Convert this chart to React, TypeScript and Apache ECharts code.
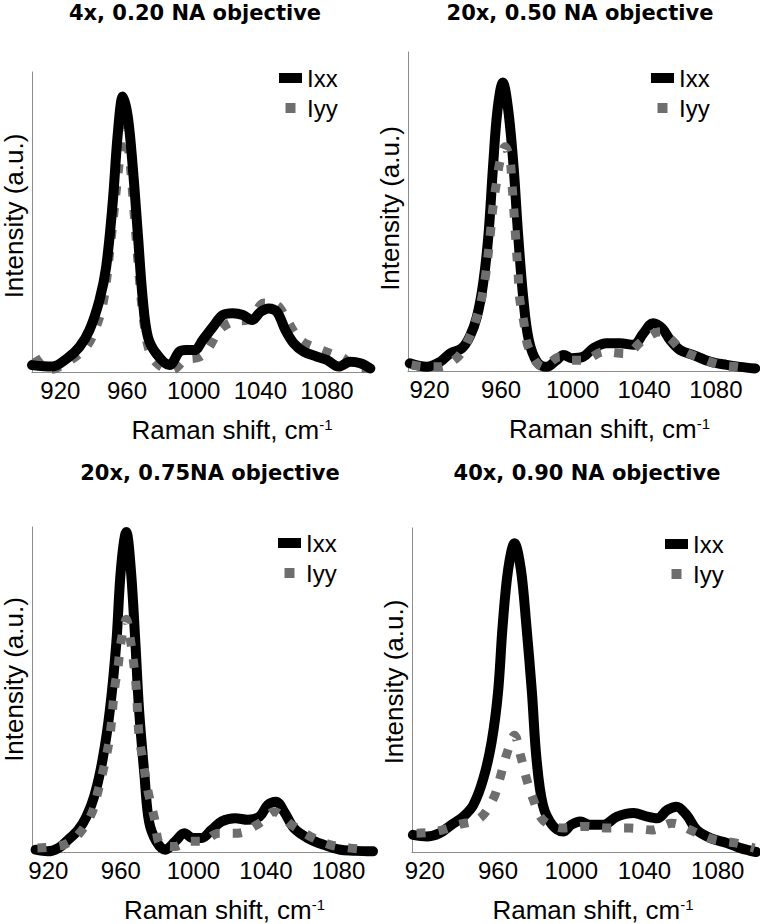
import React, { useEffect, useRef } from 'react';
import * as echarts from 'echarts';

// ---------- data ----------
const ramanTicks = [920, 960, 1000, 1040, 1080];
const panelTitles = [
  '4x, 0.20 NA objective',
  '20x, 0.50 NA objective',
  '20x, 0.75NA objective',
  '40x, 0.90 NA objective',
];
const seriesNames = ['Ixx', 'Iyy'];
const xAxisTitle = 'Raman shift, cm';
const xAxisTitleSup = '-1';
const yAxisTitle = 'Intensity (a.u.)';

// Panel 1: 4x, 0.20 NA
const p1IxxShift = [903, 915, 924, 931.5, 937.5, 943.5, 947.5, 951.5, 954.5, 957.5, 960.5, 963.5, 966.5, 969.5, 972.5, 977.5, 985.5, 991.5, 995.5, 1000.5, 1005.5, 1011.5, 1017.5, 1023.5, 1029.5, 1035, 1040, 1045, 1050, 1055, 1060, 1066, 1074, 1080, 1087, 1094, 1100, 1106];
const p1IxxInt = [2.3, 1.8, 4.5, 8.4, 14, 24, 35, 57, 79.6, 91.8, 85, 68, 46, 24, 11.8, 6.2, 2.3, 6.8, 7.3, 7.3, 10.7, 15, 19, 19.6, 19, 17.3, 20, 21.2, 20, 14, 9.6, 6.8, 5.1, 4, 1.8, 3.4, 2.9, 1.2];
const p1IyyShift = [905, 913, 923.5, 935.5, 941.5, 946, 950, 955, 958, 961, 964, 967, 970, 974, 980, 987, 995, 1003.5, 1009, 1015.5, 1023.5, 1032, 1037, 1042, 1050, 1056, 1064, 1074, 1082, 1090, 1096, 1104];
const p1IyyInt = [5, 0.7, 3, 8.4, 15, 24, 42, 68, 82, 74, 55, 34, 17, 6, 2, 0.7, 4, 5, 8, 14, 16.8, 17.3, 20, 23, 22.3, 17.3, 10.7, 7.9, 6.2, 4.6, 1.8, 1.2];

// Panel 2: 20x, 0.50 NA
const p2IxxShift = [909, 918.5, 926, 931.5, 938, 942.5, 946.5, 950, 953, 955.5, 958, 961, 964, 967, 969.5, 972.5, 975.5, 980, 985.5, 991, 995, 999.5, 1006, 1011.5, 1019, 1026.5, 1034, 1039.5, 1045, 1050, 1054.5, 1060, 1067.5, 1077, 1086, 1093.5, 1102];
const p2IxxInt = [2.4, 1.3, 2.9, 5.5, 7.1, 10.8, 17, 27.5, 43, 64, 81.8, 90.4, 81.8, 64, 43, 22.3, 9.7, 2.9, 1.3, 3.4, 5, 4, 4.5, 7.1, 8.7, 8.7, 8.2, 11.8, 15, 13.4, 9.7, 6.6, 5, 2.9, 1.9, 1.3, 0.8];
const p2IyyShift = [910, 918.5, 925, 936, 942.5, 946.5, 949, 951.5, 954, 955.5, 957.5, 959.5, 962.3, 965, 966, 967, 968, 969.5, 970.5, 972.5, 975.5, 983.5, 993, 998.5, 1006, 1017.5, 1029.5, 1039.5, 1049, 1054.5, 1061, 1071.5, 1082.5, 1092, 1099];
const p2IyyInt = [1.9, 1.3, 1.3, 4.5, 10.8, 17, 22.3, 30.6, 43, 51.5, 59.3, 66, 70.3, 66, 59.3, 51.5, 43, 30.6, 22.3, 16, 7.1, 1.3, 4.5, 3.4, 3.4, 6, 5.5, 9.7, 12.3, 10.2, 6.6, 4, 1.9, 1.3, 0.8];

// Panel 3: 20x, 0.75 NA
const p3IxxShift = [913, 919.5, 925.5, 931, 936.5, 941, 945.5, 950, 954, 957.5, 960, 963, 965.5, 968, 970, 973, 975.5, 979.5, 984.5, 990, 995, 999.5, 1004.5, 1010, 1015.5, 1023, 1030, 1036.5, 1041, 1045.5, 1050, 1055.5, 1063, 1072, 1081, 1088, 1096, 1099];
const p3IxxInt = [0.7, 0.2, 1.2, 3.8, 6.8, 10.9, 17.5, 28.7, 44, 64.4, 86.9, 98.5, 86.9, 64.4, 44, 23.6, 9.4, 3.3, 0.7, 3.3, 5.8, 4.3, 4.3, 6.8, 9.4, 10.4, 9.9, 10.9, 14.5, 15.5, 12.4, 7.3, 4.3, 2.2, 0.7, 0.4, 0.2, 0.2];
const p3IyyShift = [914, 928.5, 936.5, 944, 947.5, 951, 954, 956.5, 958.5, 960, 963, 965.5, 967.5, 968.5, 970, 972, 975, 978.5, 982, 990, 997.5, 1004.5, 1014, 1024.5, 1036.5, 1044.5, 1054, 1064.5, 1075.5, 1086.5, 1096];
const p3IyyInt = [1.2, 2.2, 5.3, 12, 19, 27, 35.9, 50.2, 57.3, 64.4, 71.6, 64.4, 56, 50.2, 35.9, 28.7, 18.6, 10.4, 2.2, 1.7, 3.3, 3.3, 5.8, 5.8, 8.9, 12.4, 8.4, 4.8, 2.2, 1.2, 0.7];

// Panel 4: 40x, 0.90 NA
const p4IxxShift = [913.5, 921, 928, 934.5, 941, 946.5, 952, 956.5, 960, 962.5, 965.5, 969, 972.5, 975.5, 978.5, 981, 984.5, 989.5, 995.5, 1000, 1005, 1010, 1017.5, 1025, 1034, 1041.5, 1047, 1052.5, 1057.5, 1063, 1068.5, 1076, 1085, 1092.5, 1101];
const p4IxxInt = [5.3, 4.8, 5.8, 8.4, 10.9, 14.5, 22.7, 34, 49.3, 69.7, 87.1, 95.3, 87.1, 69.7, 49.3, 28.8, 14.5, 8.4, 6.3, 8.4, 9.4, 8.4, 8.4, 10.9, 12, 10.9, 10.4, 13, 14, 11.4, 6.8, 4.3, 2.8, 1.2, 0];
const p4IyyShift = [915.5, 926, 938, 950, 957.5, 961, 964.5, 969, 972.5, 975.5, 979, 984.5, 995.5, 1007.5, 1019.5, 1032, 1044, 1055, 1067, 1078, 1089.5, 1100];
const p4IyyInt = [5.8, 6.3, 8.4, 10.4, 16.6, 22.7, 29.8, 36, 29.3, 22.7, 16.6, 9.9, 7.4, 7.9, 7.4, 7.4, 6.8, 8.9, 6.3, 3.8, 2.8, 1.2];

const panelData = [
  { ixx: [p1IxxShift, p1IxxInt], iyy: [p1IyyShift, p1IyyInt], xMin: 903, xMax: 1107 },
  { ixx: [p2IxxShift, p2IxxInt], iyy: [p2IyyShift, p2IyyInt], xMin: 908, xMax: 1103 },
  { ixx: [p3IxxShift, p3IxxInt], iyy: [p3IyyShift, p3IyyInt], xMin: 911, xMax: 1099 },
  { ixx: [p4IxxShift, p4IxxInt], iyy: [p4IyyShift, p4IyyInt], xMin: 913, xMax: 1102 },
];

// ---------- layout / style ----------
const layouts = [
  { left: 32, top: 72, width: 340, height: 300, titleX: 195, titleY: 2, legendLeft: 279, legendTop: 66, xShift: 30, yShift: 6, iyyOnTop: false },
  { left: 408, top: 52, width: 349, height: 319, titleX: 580, titleY: 2, legendLeft: 651, legendTop: 66, xShift: 27, yShift: 3, iyyOnTop: true },
  { left: 28, top: 527, width: 345, height: 327, titleX: 210, titleY: 462, legendLeft: 278, legendTop: 531, xShift: 22, yShift: 10, iyyOnTop: true },
  { left: 412, top: 528, width: 346, height: 326, titleX: 587, titleY: 462, legendLeft: 665, legendTop: 532, xShift: 8, yShift: 8, iyyOnTop: true },
];

const sans = '"Liberation Sans", Arial, Helvetica, sans-serif';
const IXX_COLOR = '#000000';
const IYY_COLOR = '#6e6e6e';
const AXIS_COLOR = '#8c8c8c';

const zip = (xs: number[], ys: number[]) => xs.map((x, i) => [x, ys[i]]);

function buildOption() {
  const grid = layouts.map((l) => ({ left: l.left, top: l.top, width: l.width, height: l.height }));
  const title = layouts.map((l, i) => ({
    text: panelTitles[i],
    left: l.titleX,
    top: l.titleY,
    textAlign: 'center',
    padding: 0,
    textStyle: { fontFamily: '"DejaVu Sans", sans-serif', fontWeight: 'bold', fontSize: 21, color: '#000' },
  }));
  const legend = layouts.map((l) => ({
    orient: 'vertical',
    left: l.legendLeft,
    top: l.legendTop,
    padding: 0,
    itemGap: 6,
    itemWidth: 23,
    itemHeight: 10,
    selectedMode: false,
    itemStyle: { borderWidth: 0 },
    textStyle: { fontFamily: sans, fontSize: 24, color: '#000' },
    data: [
      { name: seriesNames[0], icon: 'rect' },
      { name: seriesNames[1], icon: 'path://M0,0H10V10H0Z' },
    ],
  }));
  const xAxis = panelData.map((p, i) => ({
    type: 'value',
    gridIndex: i,
    min: p.xMin,
    max: p.xMax,
    axisLine: { show: true, onZero: false, lineStyle: { color: AXIS_COLOR, width: 1 } },
    axisTick: { show: false },
    splitLine: { show: false },
    axisLabel: {
      customValues: ramanTicks,
      formatter: (v: number) => String(v),
      fontFamily: sans,
      fontSize: 24,
      color: '#000',
      margin: 6,
    },
    name: xAxisTitle + '{sup|' + xAxisTitleSup + '}',
    nameLocation: 'middle',
    nameGap: 45,
    nameTextStyle: {
      fontFamily: sans,
      fontSize: 26,
      color: '#000',
      padding: [0, 0, 0, layouts[i].xShift * 2],
      rich: { sup: { fontFamily: sans, fontSize: 15, color: '#000', verticalAlign: 'top' } },
    },
  }));
  const yAxis = panelData.map((_, i) => ({
    type: 'value',
    gridIndex: i,
    min: 0,
    max: 100,
    axisLine: { show: true, onZero: false, lineStyle: { color: AXIS_COLOR, width: 1 } },
    axisTick: { show: false },
    axisLabel: { show: false },
    splitLine: { show: false },
    name: yAxisTitle,
    nameLocation: 'middle',
    nameGap: 5,
    nameTextStyle: { fontFamily: sans, fontSize: 26, color: '#000', padding: [0, 0, 0, layouts[i].yShift * 2] },
  }));
  const series: any[] = [];
  panelData.forEach((p, i) => {
    const top = layouts[i].iyyOnTop;
    series.push({
      type: 'line',
      name: seriesNames[0],
      xAxisIndex: i,
      yAxisIndex: i,
      data: zip(p.ixx[0], p.ixx[1]),
      symbol: 'none',
      showSymbol: false,
      smooth: 0.35,
      z: top ? 2 : 4,
      itemStyle: { color: IXX_COLOR },
      lineStyle: { color: IXX_COLOR, width: 10, cap: 'round', join: 'round' },
    });
    series.push({
      type: 'line',
      name: seriesNames[1],
      xAxisIndex: i,
      yAxisIndex: i,
      data: zip(p.iyy[0], p.iyy[1]),
      symbol: 'none',
      showSymbol: false,
      smooth: 0.35,
      z: top ? 4 : 2,
      itemStyle: { color: IYY_COLOR },
      lineStyle: { color: IYY_COLOR, width: 9, type: [9, 13], cap: 'butt', join: 'round' },
    });
  });
  return {
    animation: false,
    backgroundColor: '#ffffff',
    title,
    legend,
    grid,
    xAxis,
    yAxis,
    series,
  };
}

export default function App() {
  const ref = useRef<HTMLDivElement>(null);
  useEffect(() => {
    if (!ref.current) return;
    const chart = echarts.init(ref.current, null, { renderer: 'svg' });
    chart.setOption(buildOption() as any);
    return () => chart.dispose();
  }, []);
  return (
    <div
      ref={ref}
      style={{ position: 'absolute', left: 0, top: 0, width: 760, height: 924, background: '#fff' }}
    />
  );
}
